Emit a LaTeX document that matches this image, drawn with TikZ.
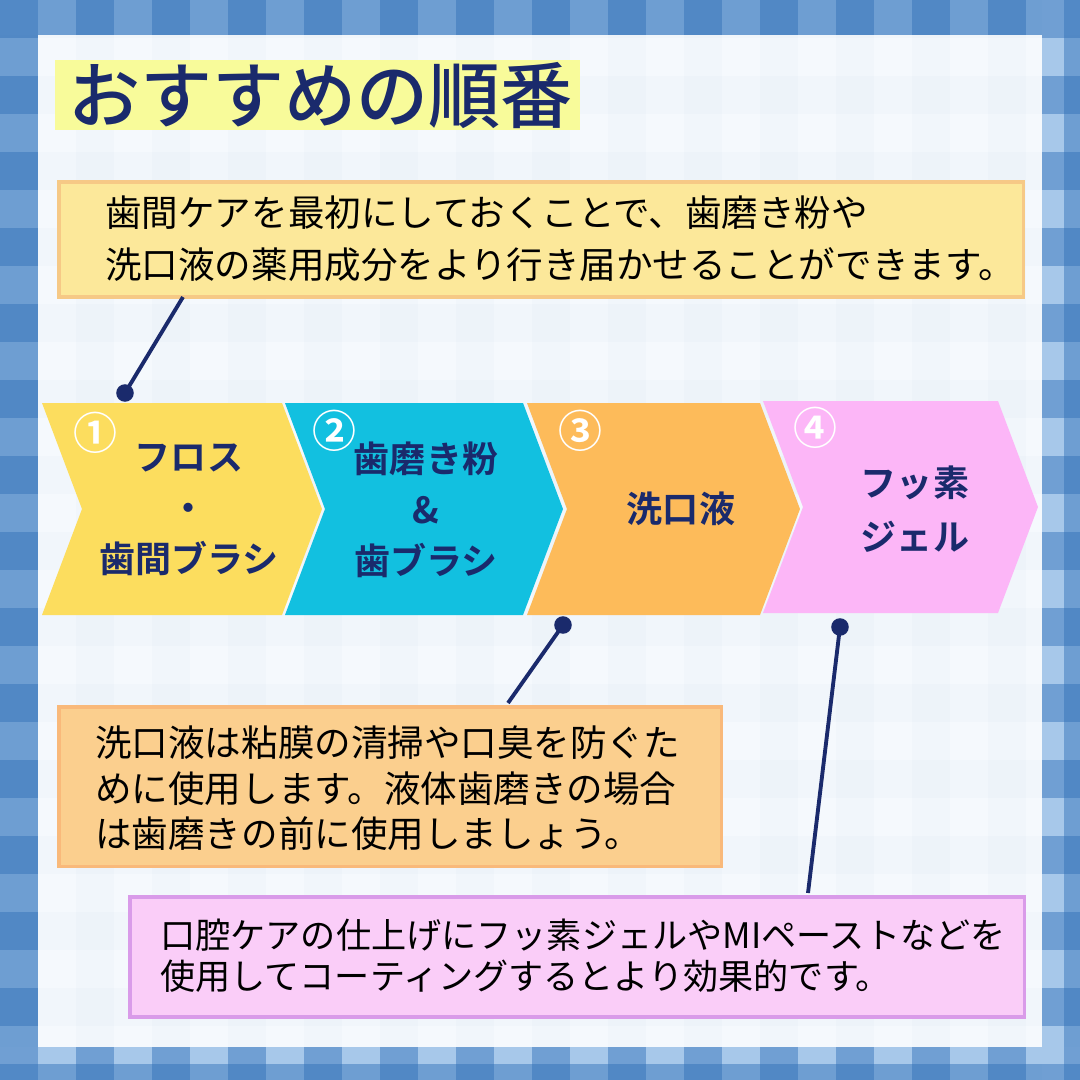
\documentclass[tikz,border=0pt]{standalone}
\usepackage{fontspec}
\newfontfamily\jp{Noto Sans CJK JP}
\newfontfamily\jpb{Noto Sans CJK JP Bold}
\newfontfamily\jpm{Noto Sans CJK JP Medium}
\definecolor{navy}{HTML}{1A2A6C}
\definecolor{bglight}{HTML}{A7C8EA}
\definecolor{stripe}{HTML}{2F6FB8}
\definecolor{panel}{HTML}{F5F9FD}
\definecolor{c1}{HTML}{FCDD5E}
\definecolor{c2}{HTML}{12C0E0}
\definecolor{c3}{HTML}{FDBB5A}
\definecolor{c4}{HTML}{FCB6F7}
\definecolor{b1d}{HTML}{F6C986}
\definecolor{b1f}{HTML}{FCE89A}
\definecolor{b3d}{HTML}{F9B97A}
\definecolor{b3f}{HTML}{FBCF8E}
\definecolor{b4d}{HTML}{D99BE9}
\definecolor{b4f}{HTML}{FACDF8}
\definecolor{hl}{HTML}{F8FB9A}
\tikzset{
 txt/.style={font=\jp\fontsize{20.8pt}{24pt}\selectfont, text=black, anchor=west, inner sep=0},
 lab/.style={font=\jpb\fontsize{20.5pt}{29pt}\selectfont, text=navy, align=center},
 num/.style={font=\jpb\fontsize{25pt}{26pt}\selectfont, text=white},
 conn/.style={navy, line width=2.2pt},
 dot/.style={circle, fill=navy, inner sep=0, minimum size=10pt},
 box/.style={line width=2pt, anchor=north west},
}
\begin{document}
\begin{tikzpicture}[x=0.02cm,y=-0.02cm]
\useasboundingbox (0,0) rectangle (1080,1080);
\fill[bglight] (0,0) rectangle (1080,1080);
\foreach \i in {0,...,14}{
 \fill[stripe,opacity=0.45] (\i*76,0) rectangle ++(38,1080);
 \fill[stripe,opacity=0.45] (0,\i*76) rectangle ++(1080,38);
}
\fill[panel] (38,35) rectangle (1042,1047);
\foreach \i in {0,...,14}{
 \fill[stripe,opacity=0.015] (\i*76,35) rectangle ++(38,1012);
 \fill[stripe,opacity=0.015] (38,\i*76) rectangle ++(1004,38);
}
% title
\fill[hl] (55,60) rectangle (580,130);
\node[font=\jpm\fontsize{41pt}{42pt}\selectfont, text=navy, anchor=west, inner sep=0] (title) at (68,96) {おすすめの順番};
% box1
\node[box, draw=b1d, fill=b1f, minimum width=19.3cm, minimum height=2.3cm] (b1) at (57,180) {};
\node[txt] (t1a) at (105,213) {歯間ケアを最初にしておくことで、歯磨き粉や};
\node[txt] (t1b) at (105,265) {洗口液の薬用成分をより行き届かせることができます。};
% chevrons
\fill[c1] (42,403) -- (282,403) -- (322,509) -- (282,615) -- (42,615) -- (82,509) -- cycle;
\fill[c2] (285,403) -- (523,403) -- (563,509) -- (523,615) -- (285,615) -- (325,509) -- cycle;
\fill[c3] (527,403) -- (760,403) -- (800,509) -- (760,615) -- (527,615) -- (567,509) -- cycle;
\fill[c4] (763,401) -- (998,401) -- (1038,507) -- (998,613) -- (763,613) -- (803,507) -- cycle;
\node[num] (n1) at (95,433) {①};
\node[num] (n2) at (334,431) {②};
\node[num] (n3) at (580,431) {③};
\node[num] (n4) at (815,428) {④};
\node[lab] (l1) at (189,510) {フロス\\・\\歯間ブラシ};
\node[lab] (l2) at (426,510) {歯磨き粉\\\&\\歯ブラシ};
\node[lab] (l3) at (681,509) {洗口液};
\node[lab, font=\jpb\fontsize{20.5pt}{31pt}\selectfont] (l4) at (915,509) {フッ素\\ジェル};
% box3
\node[box, draw=b3d, fill=b3f, minimum width=13.26cm, minimum height=3.2cm] (b3) at (57,705) {};
\node[txt] (t3a) at (95,743) {洗口液は粘膜の清掃や口臭を防ぐた};
\node[txt] (t3b) at (95,789) {めに使用します。液体歯磨きの場合};
\node[txt] (t3c) at (95,834) {は歯磨きの前に使用しましょう。};
% box4
\node[box, draw=b4d, fill=b4f, minimum width=17.9cm, minimum height=2.4cm] (b4) at (128,895) {};
\node[txt, font=\jp\fontsize{20pt}{24pt}\selectfont] (t4a) at (160,935) {口腔ケアの仕上げにフッ素ジェルやMIペーストなどを};
\node[txt, font=\jp\fontsize{20pt}{24pt}\selectfont] (t4b) at (160,976) {使用してコーティングするとより効果的です。};
% connectors
\node[dot] (d1) at (125,393) {};
\coordinate (e1) at (183,297);
\draw[conn] (d1.center) -- (e1);
\node[dot] (d3) at (563,625) {};
\coordinate (e3) at (508,703);
\draw[conn] (d3.center) -- (e3);
\node[dot] (d4) at (840,627) {};
\coordinate (e4) at (808,893);
\draw[conn] (d4.center) -- (e4);
\end{tikzpicture}
\end{document}
